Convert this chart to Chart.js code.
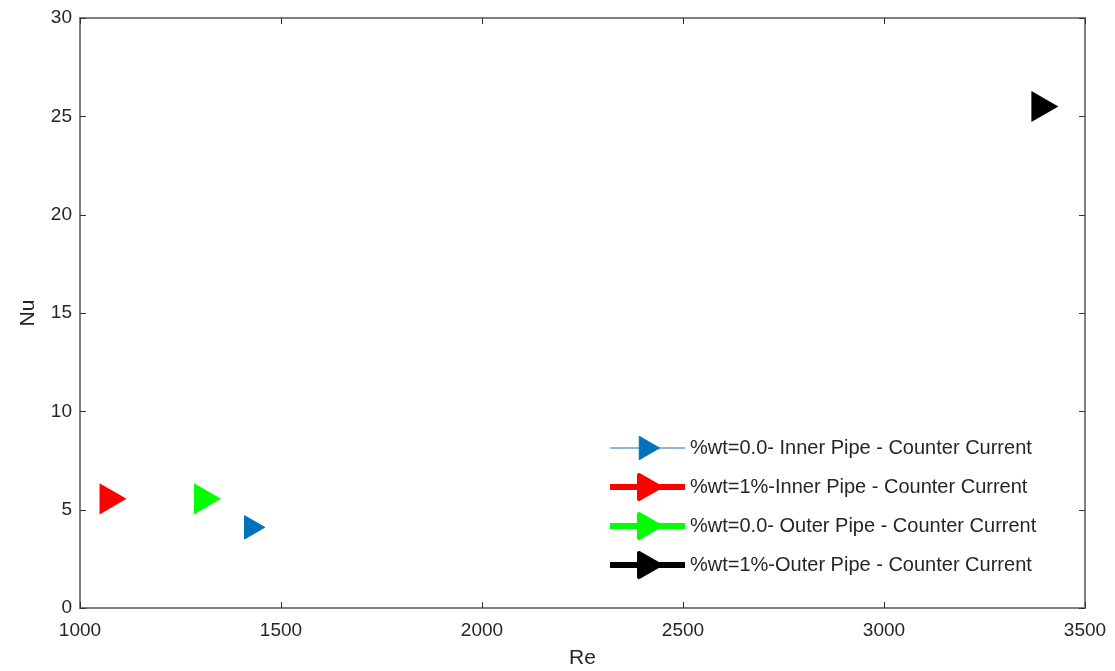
<!DOCTYPE html>
<html>
<head>
<meta charset="utf-8">
<script src="https://cdn.jsdelivr.net/npm/chart.js@4/dist/chart.umd.min.js"></script>
<style>
  body { margin: 0; background: #fff; }
</style>
</head>
<body>
<canvas id="nuRe" width="1115" height="671"></canvas>
<script>
// === Datos ===
const etiquetas = [
  '%wt=0.0- Inner Pipe - Counter Current',
  '%wt=1%-Inner Pipe - Counter Current',
  '%wt=0.0- Outer Pipe - Counter Current',
  '%wt=1%-Outer Pipe - Counter Current'
];
const reInner0 = [1426];
const nuInner0 = [4.1];
const reInner1 = [1071];
const nuInner1 = [5.55];
const reOuter0 = [1306];
const nuOuter0 = [5.55];
const reOuter1 = [3389];
const nuOuter1 = [25.5];

const ticksX = [1000, 1500, 2000, 2500, 3000, 3500];
const ticksY = [0, 5, 10, 15, 20, 25, 30];

const colores = ['#0072BD', '#FF0000', '#00FF00', '#000000'];
const toPts = (xs, ys) => xs.map((x, i) => ({ x: x, y: ys[i] }));

const GRIS = '#808080';
const TEXTO = '#262626';
const FUENTE = 'Arial, "Liberation Sans", sans-serif';

// ticks hacia dentro y marco completo (estilo MATLAB)
const marco = {
  id: 'marco',
  afterDraw(chart) {
    const { ctx, chartArea: a, scales } = chart;
    ctx.save();
    ctx.strokeStyle = GRIS;
    ctx.lineWidth = 2;
    ctx.strokeRect(a.left, a.top, a.right - a.left, a.bottom - a.top);
    ctx.strokeStyle = '#333';
    ctx.lineWidth = 1;
    const L = 6;
    ticksX.forEach(v => {
      const px = Math.round(scales.x.getPixelForValue(v)) + 0.5;
      ctx.beginPath();
      ctx.moveTo(px, a.bottom); ctx.lineTo(px, a.bottom - L);
      ctx.moveTo(px, a.top); ctx.lineTo(px, a.top + L);
      ctx.stroke();
    });
    ticksY.forEach(v => {
      const py = Math.round(scales.y.getPixelForValue(v)) + 0.5;
      ctx.beginPath();
      ctx.moveTo(a.left, py); ctx.lineTo(a.left + L, py);
      ctx.moveTo(a.right, py); ctx.lineTo(a.right - L, py);
      ctx.stroke();
    });
    ctx.restore();
  }
};

// leyenda dentro del área, abajo a la derecha
const leyenda = {
  id: 'leyenda',
  afterDraw(chart) {
    const { ctx, chartArea: a } = chart;
    const x0 = a.right - 475;
    const y0 = a.bottom - 160;
    const paso = 39;
    ctx.save();
    ctx.textBaseline = 'middle';
    chart.data.datasets.forEach((ds, i) => {
      const y = y0 + i * paso;
      ctx.strokeStyle = i === 0 ? '#6a9cc4' : ds.borderColor;
      ctx.lineWidth = i === 0 ? 1.5 : 6;
      ctx.beginPath();
      ctx.moveTo(x0, y); ctx.lineTo(x0 + 75, y);
      ctx.stroke();
      ctx.fillStyle = ds.backgroundColor;
      ctx.strokeStyle = ds.borderColor;
      ctx.lineWidth = ds.pointBorderWidth;
      ctx.lineJoin = 'round';
      Chart.helpers.drawPoint(ctx, {
        pointStyle: 'triangle',
        rotation: 90,
        radius: ds.pointRadius,
        borderWidth: ds.pointBorderWidth
      }, x0 + 36, y);
      ctx.font = '20px ' + FUENTE;
      ctx.fillStyle = TEXTO;
      ctx.fillText(ds.label, x0 + 80, y);
    });
    ctx.restore();
  }
};

const serie = (i, xs, ys, r, bw) => ({
  label: etiquetas[i],
  data: toPts(xs, ys),
  backgroundColor: colores[i],
  borderColor: colores[i],
  pointBackgroundColor: colores[i],
  pointBorderColor: colores[i],
  pointStyle: 'triangle',
  rotation: 90,
  pointRadius: r,
  pointHoverRadius: r,
  pointBorderWidth: bw,
  showLine: false
});

const sinComa = v => String(v);

new Chart(document.getElementById('nuRe'), {
  type: 'scatter',
  data: {
    datasets: [
      serie(0, reInner0, nuInner0, 13.5, 1),
      serie(1, reInner1, nuInner1, 14, 4),
      serie(2, reOuter0, nuOuter0, 14, 4),
      serie(3, reOuter1, nuOuter1, 14, 4)
    ]
  },
  options: {
    responsive: false,
    animation: false,
    layout: { padding: { top: 17, right: 30, left: 0, bottom: 0 } },
    plugins: {
      legend: { display: false },
      tooltip: { enabled: false }
    },
    elements: { point: { borderJoinStyle: 'round' } },
    scales: {
      x: {
        type: 'linear',
        min: 1000, max: 3500,
        afterBuildTicks: s => { s.ticks = ticksX.map(v => ({ value: v })); },
        afterFit: s => { s.height = 63; },
        grid: { display: false },
        border: { display: false },
        ticks: { color: TEXTO, font: { size: 19, family: FUENTE }, padding: 3, callback: sinComa },
        title: { display: true, text: 'Re', color: TEXTO, font: { size: 21, family: FUENTE }, padding: { top: 0, bottom: 0 } }
      },
      y: {
        type: 'linear',
        min: 0, max: 30,
        afterBuildTicks: s => { s.ticks = ticksY.map(v => ({ value: v })); },
        afterFit: s => { s.width = 80; },
        grid: { display: false },
        border: { display: false },
        ticks: { color: TEXTO, font: { size: 19, family: FUENTE }, padding: 0, callback: sinComa },
        title: { display: true, text: 'Nu', color: TEXTO, font: { size: 21, family: FUENTE }, padding: { top: 16, bottom: 0 } }
      }
    }
  },
  plugins: [marco, leyenda]
});
</script>
</body>
</html>
